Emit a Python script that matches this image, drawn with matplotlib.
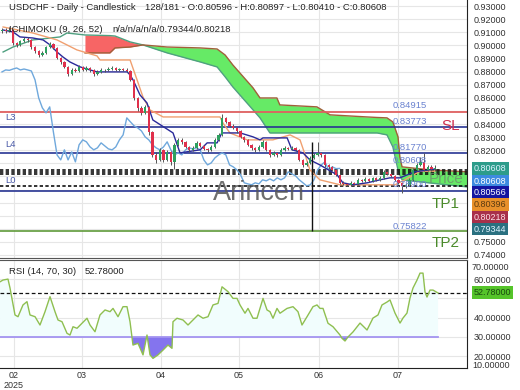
import numpy as np
import matplotlib
matplotlib.use('Agg')
import matplotlib.pyplot as plt

plt.rcParams['font.family'] = ['Liberation Sans', 'DejaVu Sans']

# daily candles (bar index 0..118)
first_open = 0.9110
closes = [0.9118, 0.9110, 0.9118, 0.9019, 0.9004, 0.9034, 0.9049, 0.9042, 0.8988, 0.8958,
          0.8927, 0.8943, 0.8988, 0.9011, 0.8981, 0.8904, 0.8874, 0.8836, 0.8782, 0.8813,
          0.8805, 0.8836, 0.8813, 0.8828, 0.8813, 0.8782, 0.8798, 0.8813, 0.8810, 0.8820,
          0.8828, 0.8813, 0.8820, 0.8813, 0.8805, 0.8737, 0.8599, 0.8523, 0.8485, 0.8531,
          0.8340, 0.8164, 0.8126, 0.8203, 0.8126, 0.8187, 0.8111, 0.8241, 0.8279, 0.8264,
          0.8225, 0.8203, 0.8218, 0.8256, 0.8233, 0.8210, 0.8203, 0.8225, 0.8279, 0.8317,
          0.8447, 0.8416, 0.8386, 0.8370, 0.8347, 0.8302, 0.8279, 0.8241, 0.8218, 0.8203,
          0.8225, 0.8264, 0.8203, 0.8164, 0.8180, 0.8164, 0.8203, 0.8218, 0.8210, 0.8218,
          0.8203, 0.8126, 0.8088, 0.8103, 0.8141, 0.8164, 0.8180, 0.8164, 0.8088, 0.8073,
          0.8050, 0.8012, 0.7951, 0.7943, 0.7936, 0.7951, 0.7943, 0.7974, 0.7966, 0.7981,
          0.7966, 0.7989, 0.7974, 0.7989, 0.8035, 0.8019, 0.8004, 0.7974, 0.7951, 0.7928,
          0.7936, 0.7974, 0.8050, 0.8088, 0.8111, 0.8050, 0.8073, 0.80596, 0.80608]
highs = [0.9135, 0.9130, 0.9140, 0.9125, 0.9030, 0.9045, 0.9062, 0.9065, 0.9050, 0.8995,
         0.8965, 0.8955, 0.8998, 0.9025, 0.9018, 0.8990, 0.8915, 0.8885, 0.8845, 0.8825,
         0.8830, 0.8850, 0.8842, 0.8840, 0.8835, 0.8820, 0.8810, 0.8825, 0.8822, 0.8832,
         0.8840, 0.8835, 0.8830, 0.8828, 0.8825, 0.8812, 0.8745, 0.8610, 0.8540, 0.8545,
         0.8540, 0.8350, 0.8190, 0.8215, 0.8210, 0.8200, 0.8195, 0.8255, 0.8295, 0.8290,
         0.8270, 0.8235, 0.8230, 0.8270, 0.8262, 0.8240, 0.8220, 0.8238, 0.8290, 0.8330,
         0.8475, 0.8455, 0.8425, 0.8398, 0.8380, 0.8355, 0.8310, 0.8288, 0.8250, 0.8228,
         0.8238, 0.8280, 0.8270, 0.8210, 0.8195, 0.8190, 0.8215, 0.8230, 0.8228, 0.8232,
         0.8225, 0.8210, 0.8135, 0.8115, 0.8155, 0.8175, 0.8260, 0.8190, 0.8170, 0.8098,
         0.8080, 0.8058, 0.8020, 0.7962, 0.7950, 0.7962, 0.7958, 0.7985, 0.7982, 0.7992,
         0.7988, 0.7998, 0.7995, 0.8000, 0.8048, 0.8042, 0.8025, 0.8010, 0.7980, 0.7958,
         0.7950, 0.7985, 0.8062, 0.8100, 0.8150, 0.8180, 0.8090, 0.8085, 0.80897]
lows = [0.9098, 0.9095, 0.9100, 0.9005, 0.8990, 0.8998, 0.9025, 0.9030, 0.8975, 0.8945,
        0.8915, 0.8918, 0.8935, 0.8980, 0.8970, 0.8895, 0.8860, 0.8825, 0.8770, 0.8772,
        0.8795, 0.8798, 0.8805, 0.8805, 0.8800, 0.8770, 0.8775, 0.8790, 0.8800, 0.8802,
        0.8812, 0.8805, 0.8806, 0.8804, 0.8795, 0.8725, 0.8585, 0.8500, 0.8470, 0.8475,
        0.8320, 0.8150, 0.8105, 0.8115, 0.8110, 0.8115, 0.8090, 0.8060, 0.8230, 0.8250,
        0.8215, 0.8190, 0.8195, 0.8210, 0.8222, 0.8200, 0.8190, 0.8195, 0.8218, 0.8270,
        0.8310, 0.8405, 0.8375, 0.8360, 0.8335, 0.8290, 0.8265, 0.8230, 0.8205, 0.8190,
        0.8195, 0.8218, 0.8195, 0.8150, 0.8155, 0.8152, 0.8158, 0.8195, 0.8200, 0.8202,
        0.8195, 0.8115, 0.8075, 0.8080, 0.8095, 0.8135, 0.8155, 0.8150, 0.8075, 0.8060,
        0.8040, 0.8000, 0.7940, 0.7932, 0.7925, 0.7928, 0.7935, 0.7938, 0.7958, 0.7960,
        0.7958, 0.7960, 0.7966, 0.7968, 0.7982, 0.8010, 0.7995, 0.7965, 0.7940, 0.7872,
        0.7915, 0.7930, 0.7968, 0.8042, 0.8080, 0.8040, 0.8041, 0.8045, 0.80410]
opens = [first_open] + closes[:-1]

# ichimoku lines (bar, price)
tenkan_x = [0.3, 3.0, 4.9, 8.4, 11.2, 13.1, 15.0, 16.6, 18.5, 21.3, 24.0, 25.9, 34.1, 34.9,
            35.7, 37.6, 39.5, 41.1, 46.6, 48.5, 54.0, 55.9, 58.6, 59.9, 64.9, 68.4, 70.3,
            71.1, 77.7, 79.0, 82.0, 83.9, 86.6, 91.3, 92.9, 95.6, 99.5, 103.0, 105.7, 108.4,
            112.5, 118.0]
tenkan_y = [0.9118, 0.9103, 0.9065, 0.9057, 0.9042, 0.9004, 0.8950, 0.8912, 0.8874, 0.8836,
            0.8813, 0.8798, 0.8798, 0.8775, 0.8737, 0.8622, 0.8561, 0.8431, 0.8332, 0.8180,
            0.8203, 0.8256, 0.8256, 0.8332, 0.8332, 0.8302, 0.8279, 0.8294, 0.8294, 0.8203,
            0.8180, 0.8126, 0.8088, 0.8012, 0.7951, 0.7936, 0.7951, 0.7974, 0.7989, 0.7989,
            0.8035, 0.80566]
kijun_x = [0.3, 8.4, 15.0, 20.4, 25.9, 26.7, 34.9, 36.8, 38.4, 40.3, 43.9, 59.4, 60.2, 62.1,
           66.8, 73.8, 78.5, 81.2, 82.6, 83.9, 86.6, 92.1, 107.1, 109.8, 113.9, 118.0]
kijun_y = [0.9141, 0.9095, 0.9042, 0.8966, 0.8920, 0.8889, 0.8889, 0.8737, 0.8607, 0.8508,
           0.8454, 0.8454, 0.8408, 0.8332, 0.8279, 0.8279, 0.8317, 0.8279, 0.8164, 0.8050,
           0.7974, 0.7936, 0.7936, 0.7974, 0.80396, 0.80396]
cloud_x = [0.3, 3.0, 8.4, 15.8, 17.7, 22.6, 29.4, 30.8, 34.9, 38.4, 45.0, 54.0, 58.6, 60.8,
           62.9, 68.4, 70.3, 73.0, 74.9, 75.7, 85.8, 89.4, 99.5, 102.2, 104.9, 106.5, 107.9,
           108.4, 109.0, 116.6, 126.7]
span_a = [0.8950, 0.8988, 0.9042, 0.9065, 0.9095, 0.9080, 0.9075, 0.9072, 0.9027, 0.9004,
          0.8943, 0.8874, 0.8836, 0.8760, 0.8683, 0.8508, 0.8447, 0.8332, 0.8332, 0.8332,
          0.8332, 0.8332, 0.8332, 0.8332, 0.8317, 0.8225, 0.8050, 0.8010, 0.7974, 0.7950,
          0.7920]
span_b = [np.nan, np.nan, np.nan, np.nan, np.nan, 0.8943, 0.8943, 0.8981, 0.8988, 0.9004,
          0.8988, 0.8981, 0.8973, 0.8927, 0.8851, 0.8676, 0.8599, 0.8599, 0.8599, 0.8546,
          0.8531, 0.8470, 0.8454, 0.8450, 0.8447, 0.8416, 0.8302, 0.8149, 0.8073, 0.8050,
          0.8035]

# RSI (bar, value)
rsi_x = [-0.54, 0.27, 1.63, 2.18, 3.54, 4.36, 5.72, 6.81, 7.63, 9.0, 10.35, 11.72, 13.08,
         14.44, 15.26, 16.35, 17.71, 18.53, 19.35, 20.44, 21.8, 23.16, 23.98, 25.34, 26.7,
         28.07, 29.43, 30.25, 31.61, 32.97, 34.06, 34.88, 35.69, 37.06, 38.42, 39.51, 40.33,
         41.14, 42.51, 43.87, 45.23, 46.32, 46.59, 47.68, 49.32, 50.68, 52.04, 53.41, 54.77,
         56.13, 57.49, 58.86, 59.95, 61.58, 62.94, 64.03, 64.85, 66.21, 67.03, 68.39, 69.48,
         71.12, 72.21, 73.02, 73.84, 74.93, 75.75, 77.66, 79.29, 80.65, 81.74, 83.11, 84.74,
         85.83, 86.65, 87.47, 88.83, 90.19, 92.1, 92.64, 93.46, 94.28, 95.64, 97.55, 99.46,
         101.09, 102.45, 103.54, 104.9, 105.72, 107.08, 108.45, 109.26, 110.35, 111.17,
         111.99, 113.08, 113.9, 114.71, 115.26, 115.8, 116.62, 117.44, 118.8]
rsi_v = [58.6, 59.5, 60.0, 55.4, 41.4, 40.5, 46.6, 48.3, 41.4, 40.5, 36.2, 43.1, 50.9, 43.1,
         38.8, 37.9, 31.9, 31.0, 35.3, 34.5, 37.1, 39.7, 36.2, 32.7, 41.4, 44.0, 43.1, 44.8,
         40.5, 45.7, 45.7, 37.9, 25.8, 26.7, 20.7, 31.0, 20.7, 18.9, 20.7, 23.2, 25.8, 24.1,
         37.9, 39.7, 38.8, 36.2, 38.8, 41.4, 39.7, 40.5, 46.6, 47.4, 56.0, 53.5, 50.0, 50.0,
         46.6, 42.3, 44.8, 39.7, 39.7, 50.0, 44.0, 43.1, 39.7, 44.8, 42.3, 44.8, 45.7, 43.1,
         36.2, 40.5, 45.7, 46.6, 44.8, 44.8, 37.1, 35.3, 31.0, 29.3, 27.9, 30.0, 32.6, 37.2,
         33.6, 39.8, 41.4, 46.6, 48.1, 49.2, 42.4, 37.2, 39.8, 42.4, 50.2, 55.4, 59.5, 63.1,
         63.1, 53.3, 50.7, 54.3, 54.3, 52.78]

month_ticks = [3.3, 21.8, 43.3, 64.6, 86.4, 107.9]
month_labels = ['02', '03', '04', '05', '06', '07']

W, H = 520, 390
fig = plt.figure(figsize=(5.2, 3.9), dpi=100)
ax = fig.add_axes([0, 1 - 258 / H, 467 / W, 258 / H])
rax = fig.add_axes([0, 22 / H, 467 / W, 108 / H])

xmin, xmax = -0.545, 126.7
ax.set_xlim(xmin, xmax)
ax.set_ylim(0.7377, 0.9347)

# grid + right price scale (labels under the price boxes are hidden)
ax.set_xticks(month_ticks)
ax.set_xticklabels([])
yt = np.arange(0.74, 0.9301, 0.01)
ax.set_yticks(yt)
ax.set_yticklabels(['' if 0.755 < v < 0.815 else f'{v:.5f}' for v in yt])
ax.yaxis.tick_right()
ax.tick_params(axis='both', length=0, pad=5, labelsize=6.5, labelcolor='#333333')
ax.grid(color='#e6e6e6', lw=0.8)
ax.set_axisbelow(True)
for s in ['left', 'top']:
    ax.spines[s].set_visible(False)
ax.spines['right'].set_color('#222222')
ax.spines['bottom'].set_color('#555555')

# cloud
ca = np.array(span_a)
cb = np.array(span_b)
ax.fill_between(cloud_x, ca, cb, where=ca >= cb, interpolate=True, color='#f76565', lw=0, zorder=1)
ax.fill_between(cloud_x, ca, cb, where=cb >= ca, interpolate=True, color='#66ea66', lw=0, zorder=1)
ax.plot(cloud_x, span_a, color='#4fa080', lw=1, zorder=2)
ax.plot(cloud_x, span_b, color='#a0603a', lw=1, zorder=2)

# levels
ax.axhline(0.84915, color='#e06060', lw=1.3, zorder=2)
ax.axhline(0.83773, color='#283593', lw=1.2, zorder=2)
ax.axhline(0.81770, color='#283593', lw=1.2, zorder=2)
for lv in [0.8050, 0.8032, 0.8017, 0.7923]:
    ax.axhline(lv, color='#111111', lw=1.2, dashes=(2, 1.4), zorder=2)
ax.axhline(0.7890, color='#283593', lw=1.2, zorder=2)
ax.axhline(0.75822, color='#5f9a3a', lw=1.2, zorder=2)

# ichimoku lines
bars = np.arange(len(closes))
cl = np.array(closes)
ax.plot(bars[26:] - 26, cl[26:], color='#6fa8dc', lw=1, zorder=3)
ax.plot(kijun_x, kijun_y, color='#f0a070', lw=1, zorder=3)
ax.plot(tenkan_x, tenkan_y, color='#2a2a9a', lw=1, zorder=3)

# candles
op = np.array(opens)
up = cl >= op
ax.vlines(bars, lows, highs, color='#555555', lw=0.7, zorder=4)
ax.bar(bars[up], cl[up] - op[up], bottom=op[up], width=0.62, color='#2ea060', lw=0, zorder=5)
ax.bar(bars[~up], cl[~up] - op[~up], bottom=op[~up], width=0.62, color='#e0304c', lw=0, zorder=5)
ax.vlines(84.4, 0.7580, 0.8265, color='#111111', lw=1, zorder=5)

# labels in chart
lab = dict(fontsize=6.8, color='#6a82d0', ha='left', va='center', zorder=6)
ax.text(106.3, 0.8538, '0.84915', **lab)
ax.text(106.3, 0.8416, '0.83773', **lab)
ax.text(106.3, 0.8218, '0.81770', **lab)
ax.text(106.3, 0.8122, '0.80608', **lab)
ax.text(106.3, 0.7938, '0.78900', **lab)
ax.text(106.3, 0.7618, '0.75822', **lab)
lv = dict(fontsize=6.8, color='#4a5aa8', ha='left', va='center', zorder=6)
ax.text(1.0, 0.8447, 'L3', **lv)
ax.text(1.0, 0.8241, 'L4', **lv)
ax.text(1.0, 0.7966, 'L0', **lv)
ax.text(70.0, 0.7874, 'Arincen', fontsize=19.5, color='#555555', alpha=0.85,
        ha='center', va='center', zorder=6)
ax.text(125.8, 0.7977, 'Price', fontsize=11, color='#708870', alpha=0.75,
        ha='right', va='center', zorder=6)
ax.text(121.0, 0.7790, 'TP1', fontsize=11, color='#4a8a2a', ha='center', va='center', zorder=6)
ax.text(121.0, 0.7493, 'TP2', fontsize=11, color='#4a8a2a', ha='center', va='center', zorder=6)
ax.text(122.3, 0.8386, 'SL', fontsize=11, color='#d03050', ha='center', va='center', zorder=6)

# header
fig.text(9 / W, 1 - 8 / H, 'USDCHF - Daily - Candlestick', fontsize=6.8, va='center', color='#222222')
fig.text(145 / W, 1 - 8 / H, '128/181 - O:0.80596 - H:0.80897 - L:0.80410 - C:0.80608',
         fontsize=6.8, va='center', color='#222222')
fig.text(9 / W, 1 - 29 / H, 'ICHIMOKU (9, 26, 52)', fontsize=6.8, va='center', color='#222222')
fig.text(112 / W, 1 - 29 / H, 'n/a/n/a/n/a/0.79344/0.80218', fontsize=6.8, va='center', color='#222222')

# price boxes on right
boxes = [('0.80608', 168.5, '#2d9c8a', '#e0f4ff'),
         ('0.80608', 181, '#3d8be0', '#ffffff'),
         ('0.80566', 192.5, '#1515a0', '#ffffff'),
         ('0.80396', 204.5, '#e8902a', '#5a3a10'),
         ('0.80218', 217.5, '#a8304a', '#ffe0e8'),
         ('0.79344', 229, '#2a7080', '#e0f4ff')]
for txt, yy, bg, fg in boxes:
    fig.text(474 / W, 1 - yy / H, txt, fontsize=6.5, color=fg, va='center', ha='left',
             bbox=dict(boxstyle='square,pad=0.22', fc=bg, ec='none'))

# RSI panel
rax.set_xlim(xmin, xmax)
rax.set_ylim(13.9, 69.9)
rv = np.array(rsi_v)
rax.fill_between(rsi_x, rv, 30, where=rv >= 30, interpolate=True, color='#f1fdfd', lw=0, zorder=1)
rax.fill_between(rsi_x, rv, 30, where=rv < 30, interpolate=True, color='#8474ee', lw=0, zorder=2)
rax.plot([xmin, 118.8], [30, 30], color='#a494f0', lw=1.3, zorder=2)
rax.axhline(52.78, color='#111111', lw=0.9, dashes=(3, 2), zorder=3)
rax.plot(rsi_x, rsi_v, color='#8fbf50', lw=1, zorder=4)
rax.set_xticks(month_ticks)
rax.set_xticklabels(month_labels)
rax.set_yticks([20, 30, 40, 50, 60])
rax.set_yticklabels(['20.00000', '30.00000', '40.00000', '', '60.00000'])
rax.yaxis.tick_right()
rax.tick_params(axis='both', length=0, labelsize=6.5, labelcolor='#333333')
rax.tick_params(axis='x', pad=2)
rax.tick_params(axis='y', pad=5)
rax.grid(color='#e6e6e6', lw=0.8)
rax.set_axisbelow(True)
rax.spines['left'].set_visible(False)
rax.spines['top'].set_color('#555555')
rax.spines['right'].set_color('#222222')
rax.spines['bottom'].set_color('#222222')

fig.text(9 / W, 1 - 272 / H, 'RSI (14, 70, 30)', fontsize=6.8, va='center', color='#222222')
fig.text(85 / W, 1 - 272 / H, '52.78000', fontsize=6.8, va='center', color='#222222')
fig.text(472 / W, 1 - 267 / H, '70.00000', fontsize=6.5, va='center', color='#333333')
fig.text(472 / W, 1 - 365 / H, '10.00000', fontsize=6.5, va='center', color='#333333')
fig.text(474 / W, 1 - 292.5 / H, '52.78000', fontsize=6.5, color='#1a4a10', va='center',
         bbox=dict(boxstyle='square,pad=0.22', fc='#55c42a', ec='none'))
fig.text(4 / W, 1 - 385 / H, '2025', fontsize=6.5, va='center', color='#333333')

fig.savefig('out.png', dpi=100)
